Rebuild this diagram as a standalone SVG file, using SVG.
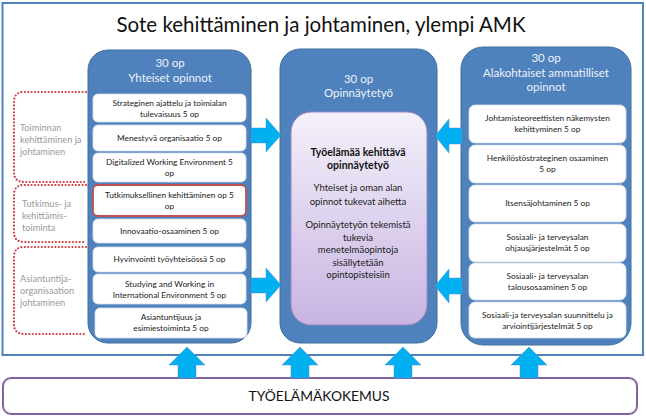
<svg xmlns="http://www.w3.org/2000/svg" width="646" height="416" viewBox="0 0 646 416">
<defs>
<linearGradient id="purp" x1="0" y1="0" x2="0" y2="1">
<stop offset="0" stop-color="#f4f0fa"/>
<stop offset="1" stop-color="#c8b5e2"/>
</linearGradient>
<style>
.panel{fill:#4f81bd;stroke:#41719c;stroke-width:1}
.ptitle{font-family:Lato,"Liberation Sans",sans-serif;font-size:11.5px;fill:#eef3fa;text-anchor:middle}
.box{fill:#ffffff;stroke:#d7e1ef;stroke-width:0.8}
.boxr{fill:#ffffff;stroke:#c0504d;stroke-width:1.8}
.bt{font-family:Lato,"Liberation Sans",sans-serif;font-size:8.3px;fill:#1a1a1a;text-anchor:middle}
.mt{font-family:Lato,"Liberation Sans",sans-serif;font-size:9.5px;fill:#1a1a1a;text-anchor:middle}
.mtb{font-family:Lato,"Liberation Sans",sans-serif;font-size:10.5px;font-weight:bold;fill:#111;text-anchor:middle}
.lab{font-family:Lato,"Liberation Sans",sans-serif;font-size:9.2px;fill:#9a9a9a}
.dot{fill:none;stroke:#d0393a;stroke-width:2.2;stroke-dasharray:0 3.4;stroke-linecap:round}
.arr{fill:#00b0f0;stroke:#5b8fd0;stroke-width:0.5}
</style>
</defs>
<rect x="2.5" y="3" width="640.5" height="352" fill="#ffffff" stroke="#4f81bd" stroke-width="2"/>
<text x="321" y="32" font-family="Lato,'Liberation Sans',sans-serif" font-size="20.5" fill="#111" text-anchor="middle">Sote kehittäminen ja johtaminen, ylempi AMK</text>

<g id="brackets">
<path class="dot" d="M86,92 H24 Q14,92 14,102 V172 Q14,182 24,182 H86"/>
<path class="dot" d="M86,185 H24 Q14,185 14,195 V232 Q14,242 24,242 H86"/>
<path class="dot" d="M86,247 H24 Q14,247 14,257 V324 Q14,334 24,334 H86"/>
<text class="lab" x="20" y="131">Toiminnan</text>
<text class="lab" x="20" y="143">kehittäminen ja</text>
<text class="lab" x="20" y="155">johtaminen</text>
<text class="lab" x="22" y="207">Tutkimus- ja</text>
<text class="lab" x="22" y="219">kehittämis-</text>
<text class="lab" x="22" y="231">toiminta</text>
<text class="lab" x="20" y="282">Asiantuntija-</text>
<text class="lab" x="20" y="294">organisaation</text>
<text class="lab" x="20" y="306">johtaminen</text>
</g>

<g id="yhteiset">
<rect class="panel" x="88" y="50" width="163" height="293" rx="20"/>
<text class="ptitle" x="170" y="67">30 op</text>
<text class="ptitle" x="170" y="82">Yhteiset opinnot</text>
<rect class="box" x="93" y="94" width="153" height="28" rx="5"/>
<text class="bt" x="169.5" y="106">Strateginen ajattelu ja toimialan</text>
<text class="bt" x="169.5" y="117">tulevaisuus 5 op</text>
<rect class="box" x="93" y="125" width="153" height="26" rx="5"/>
<text class="bt" x="169.5" y="141">Menestyvä organisaatio 5 op</text>
<rect class="box" x="93" y="153" width="153" height="29" rx="5"/>
<text class="bt" x="169.5" y="165">Digitalized Working Environment 5</text>
<text class="bt" x="169.5" y="176">op</text>
<rect class="boxr" x="93" y="185" width="153" height="31" rx="5"/>
<text class="bt" x="169.5" y="198">Tutkimuksellinen kehittäminen op 5</text>
<text class="bt" x="169.5" y="209">op</text>
<rect class="box" x="93" y="219" width="153" height="24" rx="5"/>
<text class="bt" x="169.5" y="234">Innovaatio-osaaminen 5 op</text>
<rect class="box" x="93" y="247" width="153" height="25" rx="5"/>
<text class="bt" x="169.5" y="262">Hyvinvointi työyhteisössä  5 op</text>
<rect class="box" x="93" y="274" width="153" height="30" rx="5"/>
<text class="bt" x="169.5" y="287">Studying and Working in</text>
<text class="bt" x="169.5" y="298">International Environment  5 op</text>
<rect class="box" x="95" y="308" width="152" height="30" rx="5"/>
<text class="bt" x="171" y="320">Asiantuntijuus ja</text>
<text class="bt" x="171" y="331">esimiestoiminta 5 op</text>
</g>

<g id="opinnaytetyo">
<rect class="panel" x="280" y="49" width="157" height="294" rx="20"/>
<text class="ptitle" x="358.5" y="83">30 op</text>
<text class="ptitle" x="358.5" y="97">Opinnäytetyö</text>
<rect x="291" y="112" width="136" height="213" rx="20" fill="url(#purp)" stroke="#9c86c4" stroke-width="1"/>
<text class="mtb" x="358" y="156">Työelämää kehittävä</text>
<text class="mtb" x="358" y="169">opinnäytetyö</text>
<text class="mt" x="358" y="191">Yhteiset ja oman alan</text>
<text class="mt" x="358" y="205">opinnot tukevat aihetta</text>
<text class="mt" x="358" y="228">Opinnäytetyön tekemistä</text>
<text class="mt" x="358" y="241">tukevia</text>
<text class="mt" x="358" y="253">menetelmäopintoja</text>
<text class="mt" x="358" y="266">sisällytetään</text>
<text class="mt" x="358" y="278">opintopisteisiin</text>
</g>

<g id="alakohtaiset">
<rect class="panel" x="461" y="47" width="170" height="298" rx="22"/>
<text class="ptitle" x="546" y="62">30 op</text>
<text class="ptitle" x="546" y="77">Alakohtaiset ammatilliset</text>
<text class="ptitle" x="546" y="91">opinnot</text>
<rect class="box" x="469" y="105" width="157" height="38" rx="6"/>
<text class="bt" x="547.5" y="121">Johtamisteoreettisten näkemysten</text>
<text class="bt" x="547.5" y="132">kehittyminen 5 op</text>
<rect class="box" x="469" y="145" width="157" height="38" rx="6"/>
<text class="bt" x="547.5" y="161">Henkilöstöstrateginen osaaminen</text>
<text class="bt" x="547.5" y="172">5 op</text>
<rect class="box" x="469" y="185" width="157" height="37" rx="6"/>
<text class="bt" x="547.5" y="206">Itsensäjohtaminen  5 op</text>
<rect class="box" x="469" y="224" width="157" height="38" rx="6"/>
<text class="bt" x="547.5" y="240">Sosiaali- ja terveysalan</text>
<text class="bt" x="547.5" y="251">ohjausjärjestelmät 5 op</text>
<rect class="box" x="469" y="263" width="157" height="37" rx="6"/>
<text class="bt" x="547.5" y="279">Sosiaali- ja terveysalan</text>
<text class="bt" x="547.5" y="290">talousosaaminen 5 op</text>
<rect class="box" x="469" y="302" width="157" height="36" rx="6"/>
<text class="bt" x="547.5" y="318">Sosiaali-ja terveysalan suunnittelu ja</text>
<text class="bt" x="547.5" y="329">arviointijärjestelmät 5 op</text>
</g>

<g id="tyoelamakokemus">
<rect x="3" y="378" width="634" height="36" rx="8" fill="#ffffff" stroke="#8064a2" stroke-width="2"/>
<text x="319" y="401" font-family="Lato,'Liberation Sans',sans-serif" font-size="13.8" fill="#111" text-anchor="middle">TYÖELÄMÄKOKEMUS</text>
</g>

<g id="connectors">
<polygon class="arr" points="251,128 266,128 266,118 281,135 266,152 266,143 251,143"/>
<polygon class="arr" points="251,278 266,278 266,268 281,285 266,302 266,293 251,293"/>
<polygon class="arr" points="462,128 449,128 449,119 435,136 449,153 449,144 462,144"/>
<polygon class="arr" points="462,278 449,278 449,269 435,286 449,303 449,294 462,294"/>
<polygon class="arr" points="178,378 178,365 169,365 187,347 205,365 196,365 196,378"/>
<polygon class="arr" points="291,378 291,365 282,365 300,347 318,365 309,365 309,378"/>
<polygon class="arr" points="394,378 394,365 385,365 403,347 421,365 412,365 412,378"/>
<polygon class="arr" points="520,378 520,365 511,365 529,347 547,365 538,365 538,378"/>
</g>
</svg>
